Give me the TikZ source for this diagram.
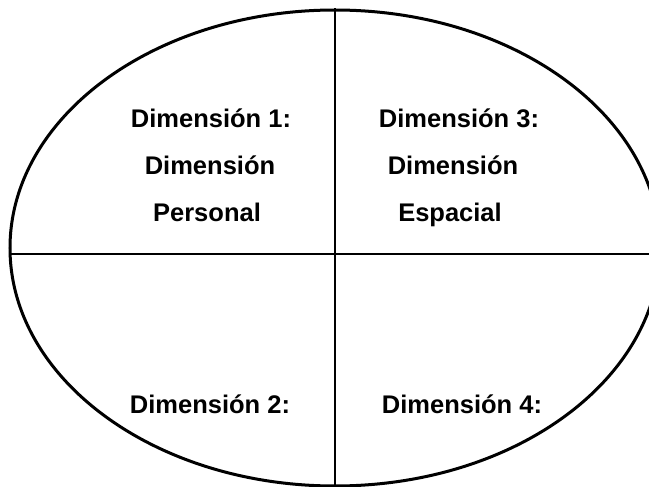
\documentclass[tikz,border=0pt]{standalone}
\usepackage{fontspec}
\setmainfont{Liberation Sans}
\usetikzlibrary{shapes.geometric}

\begin{document}
\begin{tikzpicture}[x=1pt,y=-1pt,font=\fontsize{25.5}{30}\selectfont\bfseries]
\tikzstyle{oval}=[ellipse,draw,line width=3pt,inner sep=0pt,minimum width=650pt,minimum height=476pt]
\tikzstyle{lbl}=[anchor=base,inner sep=0pt]
\tikzstyle{axis}=[line width=2pt]
\useasboundingbox (0,0) rectangle (649,487);
\node[oval] (ring) at (335,248) {};
\coordinate (hl) at (10,254);
\coordinate (hr) at (649,254);
\draw[axis] (ring.north) -- (ring.south);
\draw[axis,line width=2.5pt] (hl) -- (hr);
% upper left
\node[lbl] (d1a) at (211,128) {Dimensión 1:};
\node[lbl] (d1b) at (210,175) {Dimensión};
\node[lbl] (d1c) at (207,222) {Personal};
% upper right
\node[lbl] (d3a) at (459,128) {Dimensión 3:};
\node[lbl] (d3b) at (453,175) {Dimensión};
\node[lbl] (d3c) at (450,222) {Espacial};
% lower half
\node[lbl] (d2) at (210,413) {Dimensión 2:};
\node[lbl] (d4) at (462,413) {Dimensión 4:};
\end{tikzpicture}
\end{document}
